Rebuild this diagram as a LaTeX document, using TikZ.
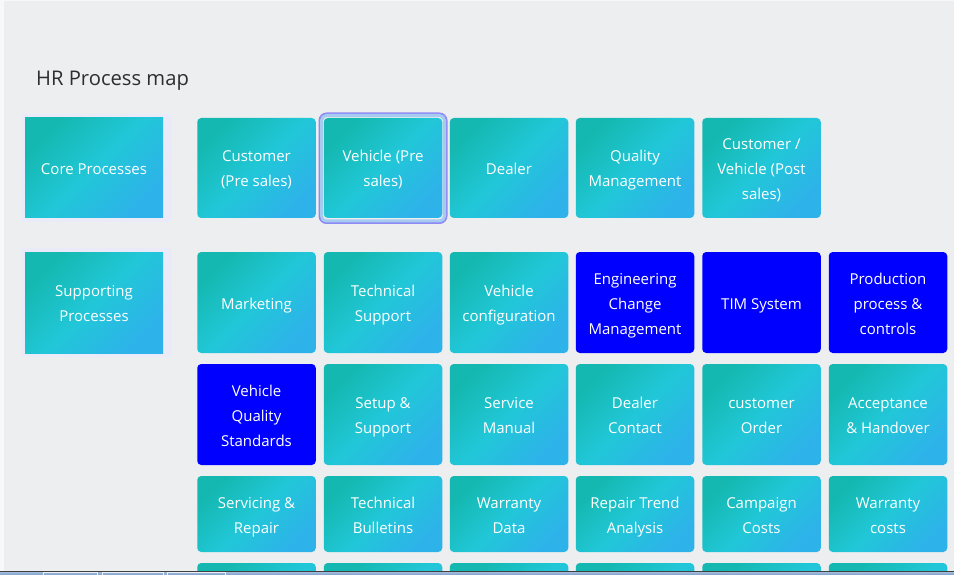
\documentclass[tikz,border=0pt]{standalone}
\usepackage{fontspec}
\setmainfont{Open Sans}
\definecolor{bgc}{HTML}{EDEEF0}
\definecolor{cteal}{HTML}{14B8B0}
\definecolor{ccyan}{HTML}{21C7D8}
\definecolor{cblue}{HTML}{2EB2EA}
\definecolor{pureblue}{HTML}{0000FF}
\definecolor{titlec}{HTML}{2E2E2E}
\definecolor{ringc}{HTML}{A6CAF0}
\definecolor{glowc}{HTML}{8E8AF4}
\definecolor{lav}{HTML}{EAEAF8}
\definecolor{taskc}{HTML}{7C9CC8}
\definecolor{taskd}{HTML}{A9C1E0}
\newcommand{\ts}{\rule{0pt}{19pt}}
\newcommand{\botstrut}{\rule[-6pt]{0pt}{0pt}}
\begin{document}
\begin{tikzpicture}[x=1pt,y=-1pt,
  boxfont/.style={font=\fontsize{15pt}{25pt}\selectfont,
    execute at end node=\botstrut},
  procbox/.style={boxfont, rounded corners=4pt, minimum width=118.5pt, minimum height=101pt,
    inner sep=0pt, text=white, align=center,
    top color=cteal, bottom color=cblue, middle color=ccyan, shading angle=45},
  shortbox/.style={procbox, minimum height=76pt},
  bluebox/.style={boxfont, rounded corners=4pt, minimum width=118.5pt, minimum height=101pt,
    inner sep=0pt, text=white, align=center, fill=pureblue},
  sidebox/.style={boxfont, minimum width=138pt, minimum height=100pt, inner sep=0pt,
    text=white, align=center, top color=cteal, bottom color=cblue, middle color=ccyan, shading angle=45},
  titlestyle/.style={font=\fontsize{20.2pt}{24pt}\selectfont, text=titlec, anchor=base west, inner sep=0pt}
]
\useasboundingbox (0,0) rectangle (954,575);
\clip (0,0) rectangle (954,575);
\fill[bgc] (0,0) rectangle (954,575);
\fill[white!60!bgc] (0,0) rectangle (4,575);
\fill[white!60!bgc] (0,0) rectangle (954,1.5);

\node[titlestyle] (title) at (36,86) {HR Process map};

% side labels
\fill[lav] (21,114) rectangle (172,222);
\fill[lav] (21,248) rectangle (172,357);
\node[sidebox] (core) at (94,168) {\ts Core Processes};
\node[sidebox, minimum height=101pt] (supp) at (94,302.5) {\ts Supporting\\Processes};

% core row
\node[procbox, minimum height=100pt] (c1) at (256.5,168) {\ts Customer\\(Pre sales)};
\draw[glowc, line width=2pt, rounded corners=7pt] (319.5,113.5) rectangle (446.5,223);
\draw[ringc, line width=3pt, rounded corners=5pt] (321.5,115.5) rectangle (444.5,221);
\node[procbox, minimum height=100pt] (c2) at (383,168) {\ts Vehicle (Pre\\sales)};
\node[procbox, minimum height=100pt] (c3) at (509,168) {\ts Dealer};
\node[procbox, minimum height=100pt] (c4) at (635,168) {\ts Quality\\Management};
\node[procbox, minimum height=100pt] (c5) at (761.5,168) {\ts Customer /\\Vehicle (Post\\sales)};

% supporting row 1
\node[procbox] (s11) at (256.5,302.5) {\ts Marketing};
\node[procbox] (s12) at (383,302.5) {\ts Technical\\Support};
\node[procbox] (s13) at (509,302.5) {\ts Vehicle\\configuration};
\node[bluebox] (s14) at (635,302.5) {\ts Engineering\\Change\\Management};
\node[bluebox] (s15) at (761.5,302.5) {\ts TIM System};
\node[bluebox] (s16) at (888,302.5) {\ts Production\\process \&\\controls};

% supporting row 2
\node[bluebox] (s21) at (256.5,414.5) {\ts Vehicle\\Quality\\Standards};
\node[procbox] (s22) at (383,414.5) {\ts Setup \&\\Support};
\node[procbox] (s23) at (509,414.5) {\ts Service\\Manual};
\node[procbox] (s24) at (635,414.5) {\ts Dealer\\Contact};
\node[procbox] (s25) at (761.5,414.5) {\ts customer\\Order};
\node[procbox] (s26) at (888,414.5) {\ts Acceptance\\\& Handover};

% supporting row 3
\node[shortbox] (s31) at (256.5,514) {\ts Servicing \&\\Repair};
\node[shortbox] (s32) at (383,514) {\ts Technical\\Bulletins};
\node[shortbox] (s33) at (509,514) {\ts Warranty\\Data};
\node[shortbox] (s34) at (635,514) {\ts Repair Trend\\Analysis};
\node[shortbox] (s35) at (761.5,514) {\ts Campaign\\Costs};
\node[shortbox] (s36) at (888,514) {\ts Warranty\\costs};

% supporting row 4 (cut off)
\node[procbox] (s41) at (256.5,613.5) {};
\node[procbox] (s42) at (383,613.5) {};
\node[procbox] (s43) at (509,613.5) {};
\node[procbox] (s44) at (635,613.5) {};
\node[procbox] (s45) at (761.5,613.5) {};
\node[procbox] (s46) at (888,613.5) {};

% taskbar strip
\shade[top color=taskd, bottom color=taskc] (0,571.5) rectangle (954,575);
\draw[black!75, line width=0.8pt] (0,571.8) -- (954,571.8);
\draw[white!85!taskc, line width=0.7pt] (43,575) -- (43,572.5) -- (97,572.5) -- (97,575);
\draw[white!85!taskc, line width=0.7pt] (102,575) -- (102,572.5) -- (163,572.5) -- (163,575);
\draw[white!85!taskc, line width=0.7pt] (167,575) -- (167,572.5) -- (225,572.5) -- (225,575);
\end{tikzpicture}
\end{document}
